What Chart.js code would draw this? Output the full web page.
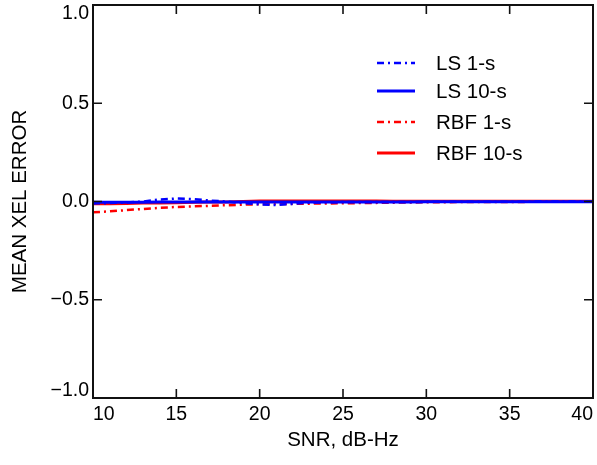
<!DOCTYPE html>
<html>
<head>
<meta charset="utf-8">
<script src="https://cdn.jsdelivr.net/npm/chart.js@4/dist/chart.umd.min.js"></script>
<style>
html,body{margin:0;padding:0;background:#fff;}
#wrap{width:597px;height:465px;position:relative;}
</style>
</head>
<body>
<div id="wrap"><canvas id="c" width="597" height="465"></canvas></div>
<script>
const snr = [10,11,12,13,14,15,16,17,18,19,20,21,22,23,24,25,26,27,28,29,30,31,32,33,34,35,36,37,38,39,40];
const ls1 = [-0.010,-0.008,-0.005,0.000,0.010,0.015,0.012,0.005,0.000,-0.008,-0.015,-0.018,-0.012,-0.006,-0.004,-0.003,-0.003,-0.002,-0.002,-0.002,-0.002,-0.001,-0.001,-0.001,-0.001,-0.001,-0.001,0.000,0.000,0.000,0.000];
const ls10 = [-0.004,-0.004,-0.004,-0.004,-0.003,-0.003,-0.003,-0.003,-0.003,-0.003,-0.003,-0.003,-0.002,-0.002,-0.002,-0.002,-0.002,-0.002,-0.002,-0.002,-0.001,-0.001,-0.001,-0.001,-0.001,-0.001,-0.001,-0.001,-0.001,-0.001,-0.001];
const rbf1 = [-0.055,-0.050,-0.044,-0.038,-0.032,-0.028,-0.025,-0.022,-0.019,-0.016,-0.014,-0.013,-0.012,-0.011,-0.010,-0.009,-0.008,-0.007,-0.006,-0.005,-0.004,-0.004,-0.003,-0.003,-0.002,-0.002,-0.002,-0.001,-0.001,-0.001,-0.001];
const rbf10 = [-0.012,-0.011,-0.010,-0.008,-0.007,-0.006,-0.004,-0.003,-0.002,0.000,0.002,0.003,0.003,0.003,0.002,0.002,0.002,0.002,0.001,0.001,0.001,0.001,0.001,0.001,0.001,0.001,0.001,0.001,0.001,0.001,0.001];
const seriesNames = ['LS 1-s','LS 10-s','RBF 1-s','RBF 10-s'];
const yTicks = [-1.0,-0.5,0.0,0.5,1.0];
const xTicks = [10,15,20,25,30,35,40];

const FONT = '"Liberation Sans", Arial, sans-serif';
const TICK_SIZE = 19.5;
const TEXT_SIZE = 20.5;
const DASHDOT = [7,4,2,4];
const pts = arr => snr.map((x,i)=>({x:x,y:arr[i]}));
const yFmt = v => (v<0?'\u2212':'')+Math.abs(v).toFixed(1);

const styles = [
  {color:'#0000ff', dash:DASHDOT, width:2.5},
  {color:'#0000ff', dash:[], width:3},
  {color:'#ff0000', dash:DASHDOT, width:2.5},
  {color:'#ff0000', dash:[], width:3}
];
const allData = [ls1, ls10, rbf1, rbf10];

const frame = {
  id:'frame',
  afterDatasetsDraw(chart){
    const ctx = chart.ctx, a = chart.chartArea;
    const xs = chart.scales.x, ys = chart.scales.y;
    ctx.save();
    ctx.strokeStyle = '#111';
    ctx.lineWidth = 1.6;
    const tl = 9;
    ctx.beginPath();
    xTicks.forEach(v=>{
      const px = xs.getPixelForValue(v);
      ctx.moveTo(px,a.bottom); ctx.lineTo(px,a.bottom-tl);
      ctx.moveTo(px,a.top); ctx.lineTo(px,a.top+tl);
    });
    yTicks.forEach(v=>{
      const py = ys.getPixelForValue(v);
      ctx.moveTo(a.left,py); ctx.lineTo(a.left+tl,py);
      ctx.moveTo(a.right,py); ctx.lineTo(a.right-tl,py);
    });
    ctx.stroke();
    ctx.lineWidth = 2;
    ctx.strokeRect(a.left,a.top,a.right-a.left,a.bottom-a.top);
    // y tick labels (first/last kept inside the axis span)
    ctx.fillStyle = '#000';
    ctx.font = TICK_SIZE + 'px ' + FONT;
    ctx.textAlign = 'right';
    yTicks.forEach((v,i)=>{
      const py = ys.getPixelForValue(v);
      ctx.textBaseline = i===0 ? 'bottom' : (i===yTicks.length-1 ? 'top' : 'middle');
      const dy = i===0 ? 2 : (i===yTicks.length-1 ? -1 : 0);
      ctx.fillText(yFmt(v), a.left-4, py+dy);
    });
    // legend
    const lx0 = 377, lx1 = 415, tx = 436;
    const rows = [63, 91, 122, 153];
    ctx.font = TEXT_SIZE + 'px ' + FONT;
    ctx.textAlign = 'left';
    ctx.textBaseline = 'middle';
    chart.data.datasets.forEach((ds,i)=>{
      ctx.beginPath();
      ctx.strokeStyle = ds.borderColor;
      ctx.lineWidth = ds.borderWidth;
      ctx.setLineDash(ds.borderDash || []);
      ctx.moveTo(lx0, rows[i]); ctx.lineTo(lx1, rows[i]);
      ctx.stroke();
      ctx.setLineDash([]);
      ctx.fillText(ds.label, tx, rows[i]+1);
    });
    ctx.restore();
  }
};

new Chart(document.getElementById('c'), {
  type:'line',
  data:{
    datasets: seriesNames.map((n,i)=>({
      label:n,
      data:pts(allData[i]),
      borderColor:styles[i].color,
      borderDash:styles[i].dash,
      borderWidth:styles[i].width,
      pointRadius:0,
      fill:false,
      tension:0
    }))
  },
  plugins:[frame],
  options:{
    responsive:false,
    animation:false,
    layout:{padding:{top:5,right:4,left:0,bottom:0}},
    plugins:{legend:{display:false},tooltip:{enabled:false}},
    scales:{
      x:{
        type:'linear', min:10, max:40,
        afterBuildTicks(s){ s.ticks = xTicks.map(v=>({value:v})); },
        afterFit(s){ s.height = 67; s.paddingLeft = 0; s.paddingRight = 0; },
        grid:{display:false, drawTicks:false},
        border:{display:false},
        ticks:{align:'inner', color:'#000', font:{family:FONT,size:TICK_SIZE}, padding:5, maxRotation:0,
               callback:v=>String(v)},
        title:{display:true, text:'SNR, dB-Hz', color:'#000', font:{family:FONT,size:TEXT_SIZE}, padding:{top:10,bottom:12}}
      },
      y:{
        type:'linear', min:-1, max:1,
        afterBuildTicks(s){ s.ticks = yTicks.map(v=>({value:v})); },
        afterFit(s){ s.width = 93; s.paddingTop = 0; s.paddingBottom = 0; },
        grid:{display:false, drawTicks:false},
        border:{display:false},
        ticks:{display:false},
        title:{display:true, text:'MEAN XEL ERROR', color:'#000', font:{family:FONT,size:TEXT_SIZE}, padding:{top:8,bottom:0}}
      }
    }
  }
});
</script>
</body>
</html>
